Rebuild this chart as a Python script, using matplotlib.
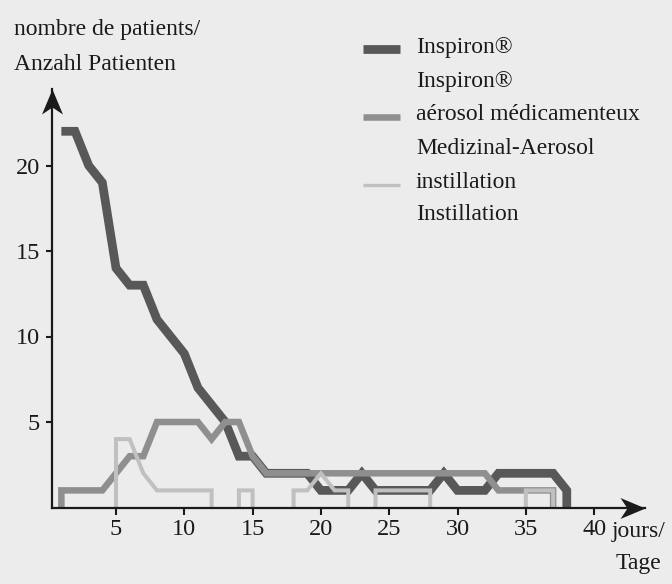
import matplotlib
matplotlib.use("Agg")
import matplotlib.pyplot as plt
import numpy as np
from matplotlib.path import Path
from matplotlib.lines import Line2D

plt.rcParams['font.family'] = ['Liberation Serif', 'DejaVu Serif']

# Données (jours / nombre de patients)
inspiron_days = [1, 2, 3, 4, 5, 6, 7, 8, 9, 10, 11, 12, 13, 14, 15, 16, 17, 18, 19,
                 20, 21, 22, 23, 24, 25, 26, 27, 28, 29, 30, 31, 32, 33, 34, 35, 36, 37, 38, 38]
inspiron_vals = [22, 22, 20, 19, 14, 13, 13, 11, 10, 9, 7, 6, 5, 3, 3, 2, 2, 2, 2,
                 1, 1, 1, 2, 1, 1, 1, 1, 1, 2, 1, 1, 1, 2, 2, 2, 2, 2, 1, 0]

aerosol_days = [1, 1, 2, 3, 4, 5, 6, 7, 8, 9, 10, 11, 12, 13, 14, 15, 16, 17, 18, 19,
                20, 21, 22, 23, 24, 25, 26, 27, 28, 29, 30, 31, 32, 33, 34, 35, 36, 37, 37]
aerosol_vals = [0, 1, 1, 1, 1, 2, 3, 3, 5, 5, 5, 5, 4, 5, 5, 3, 2, 2, 2, 2,
                2, 2, 2, 2, 2, 2, 2, 2, 2, 2, 2, 2, 2, 1, 1, 1, 1, 1, 0]

nan = np.nan
instil_days = [5, 5, 6, 7, 8, 9, 10, 11, 12, 12, nan,
               14, 14, 15, 15, nan,
               18, 18, 19, 20, 21, 22, 22, nan,
               24, 24, 25, 26, 27, 28, 28, nan,
               35, 35, 36, 37, 37]
instil_vals = [0, 4, 4, 2, 1, 1, 1, 1, 1, 0, nan,
               0, 1, 1, 0, nan,
               0, 1, 1, 2, 1, 1, 0, nan,
               0, 1, 1, 1, 1, 1, 0, nan,
               0, 1, 1, 1, 0]

x_ticks = [5, 10, 15, 20, 25, 30, 35, 40]
y_ticks = [5, 10, 15, 20]

legend_labels = ["Inspiron®", "Inspiron®",
                 "aérosol médicamenteux", "Medizinal-Aerosol",
                 "instillation", "Instillation"]

bg = '#ececec'
ink = '#1a1a1a'
c_dark = '#585858'
c_mid = '#8f8f8f'
c_light = '#c0c0c0'
fs = 17

W, H = 672, 584
fig = plt.figure(figsize=(W / 100, H / 100), dpi=100)
fig.patch.set_facecolor(bg)

x0, x1 = 0.3, 43.7
y0, y1 = 0, 24.5
px_day = 13.66
px_unit = 17.1
left_px = 47.7 + x0 * px_day
right_px = 47.7 + x1 * px_day
bottom_px = 507.5
top_px = bottom_px - y1 * px_unit
ax = fig.add_axes([left_px / W, (H - bottom_px) / H,
                   (right_px - left_px) / W, (bottom_px - top_px) / H])
ax.set_facecolor('none')
ax.set_xlim(x0, x1)
ax.set_ylim(y0, y1)

# Courbes
ax.plot(inspiron_days, inspiron_vals, color=c_dark, lw=6.3,
        solid_joinstyle='miter', solid_capstyle='butt', zorder=2, clip_on=False)
ax.plot(aerosol_days, aerosol_vals, color=c_mid, lw=4.7,
        solid_joinstyle='miter', solid_capstyle='butt', zorder=3, clip_on=False)
ax.plot(instil_days, instil_vals, color=c_light, lw=2.9,
        solid_joinstyle='miter', solid_capstyle='butt', zorder=4, clip_on=False)

# Axes avec flèches
for s in ['top', 'right']:
    ax.spines[s].set_visible(False)
for s in ['left', 'bottom']:
    ax.spines[s].set_linewidth(1.6)
    ax.spines[s].set_color(ink)
    ax.spines[s].set_zorder(5)

arrow_up = Path([(0, 0), (-0.42, -1), (0, -0.72), (0.42, -1), (0, 0)])
arrow_right = Path([(0, 0), (-1, 0.42), (-0.72, 0), (-1, -0.42), (0, 0)])
ax.plot([x0], [y1], marker=arrow_up, markersize=36, color=ink, mec=ink,
        mew=0, clip_on=False, zorder=6)
ax.plot([x1], [y0], marker=arrow_right, markersize=36, color=ink, mec=ink,
        mew=0, clip_on=False, zorder=6)

ax.set_xticks(x_ticks)
ax.set_yticks(y_ticks)
ax.tick_params(axis='both', direction='out', width=1.5, color=ink,
               labelsize=17.5, labelcolor=ink)
ax.tick_params(axis='x', length=5, pad=3)
ax.tick_params(axis='y', length=4.5, pad=4)

# Titres des axes
fig.text(14 / W, 1 - 30 / H, "nombre de patients/", fontsize=fs, color=ink,
         ha='left', va='center')
fig.text(14 / W, 1 - 64 / H, "Anzahl Patienten", fontsize=fs, color=ink,
         ha='left', va='center')
fig.text(612 / W, 1 - 531 / H, "jours/", fontsize=fs, color=ink,
         ha='left', va='center')
fig.text(616 / W, 1 - 564 / H, "Tage", fontsize=fs, color=ink,
         ha='left', va='center')

# Légende
sw_x0, sw_x1 = 363, 400
swatches = [(c_dark, 6.3, 49), (c_mid, 4.7, 117), (c_light, 2.4, 185)]
for color, lw, yy in swatches:
    fig.add_artist(Line2D([sw_x0 / W, sw_x1 / W], [1 - yy / H, 1 - yy / H],
                          color=color, lw=lw, solid_capstyle='butt',
                          transform=fig.transFigure))
row_y = [47, 81, 115, 148, 182, 215]
for lab, yy in zip(legend_labels, row_y):
    fig.text(416 / W, 1 - yy / H, lab, fontsize=fs, color=ink,
             ha='left', va='center')

fig.savefig("out.png", dpi=100, facecolor=bg)
